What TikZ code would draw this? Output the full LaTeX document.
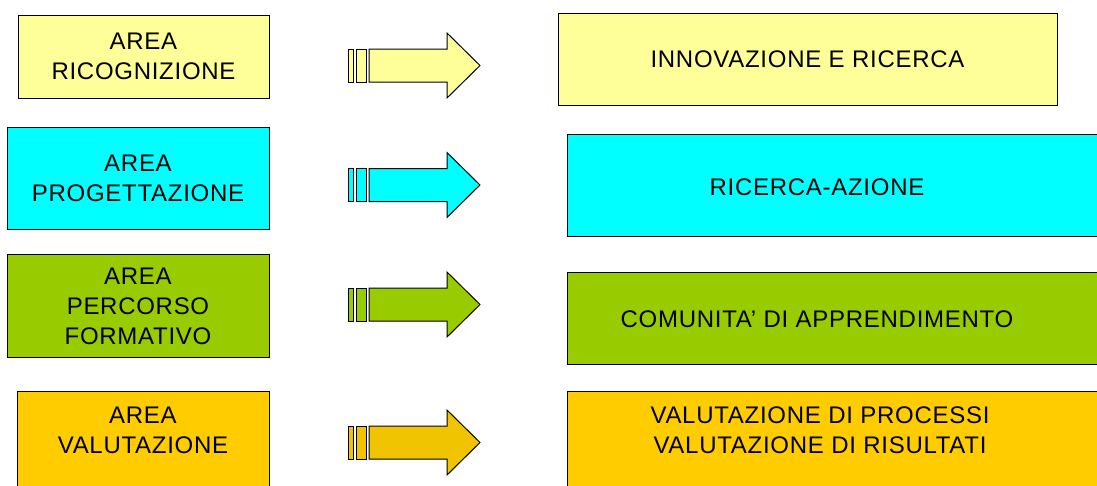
\documentclass[tikz,border=0pt]{standalone}
\usepackage{fontspec}
\setmainfont{Liberation Sans}[LetterSpace=3]
\definecolor{cyellow}{HTML}{FFFF99}
\definecolor{ccyan}{HTML}{00FFFF}
\definecolor{cgreen}{HTML}{99CC00}
\definecolor{corange}{HTML}{FFCC00}
\definecolor{carrow}{HTML}{F0C400}
\newcommand\myarrow[2]{%
  \filldraw[arr,fill=#2] (348,#1-16.5) rectangle (353,#1+16.5);
  \filldraw[arr,fill=#2] (356,#1-16.5) rectangle (366,#1+16.5);
  \filldraw[arr,fill=#2] (369,#1-16.5) -- (447,#1-16.5) -- (447,#1-32.5) -- (480,#1) -- (447,#1+32.5) -- (447,#1+16.5) -- (369,#1+16.5) -- cycle;}
\begin{document}
\begin{tikzpicture}[x=1pt,y=-1pt,
  box/.style={draw=black,line width=1pt,align=center,font=\fontsize{24}{30}\selectfont,inner sep=0pt},
  txt/.style={align=center,font=\fontsize{24}{30}\selectfont,inner sep=0pt},
  arr/.style={draw=black,line width=1pt,line join=miter}]
\useasboundingbox (0,0) rectangle (1097,485);
\clip (0,0) rectangle (1097,485);
% left boxes
\node[box,fill=cyellow,minimum width=251,minimum height=83] (l1) at (143.5,56.5) {AREA\\RICOGNIZIONE};
\node[box,fill=ccyan,minimum width=262,minimum height=102] (l2) at (138,178) {AREA\\PROGETTAZIONE};
\node[box,fill=cgreen,minimum width=262,minimum height=103] (l3) at (138,306) {AREA\\PERCORSO\\FORMATIVO};
\node[box,fill=corange,minimum width=252,minimum height=120,anchor=north west] (l4) at (17,391) {};
\node[txt] (t4) at (143,430) {AREA\\VALUTAZIONE};
% right boxes
\node[box,fill=cyellow,minimum width=499,minimum height=92] (r1) at (807.5,59) {INNOVAZIONE E RICERCA};
\node[box,fill=ccyan,minimum width=560,minimum height=102,anchor=north west] (r2) at (567,134) {};
\node[txt] (s2) at (817,187) {RICERCA-AZIONE};
\node[box,fill=cgreen,minimum width=560,minimum height=92,anchor=north west] (r3) at (567,272) {};
\node[txt] (s3) at (817,319) {COMUNITA' DI APPRENDIMENTO};
\node[box,fill=corange,minimum width=560,minimum height=120,anchor=north west] (r4) at (567,391) {};
\node[txt] (s4) at (820,430) {VALUTAZIONE DI PROCESSI\\VALUTAZIONE DI RISULTATI};
% arrows
\myarrow{65.5}{cyellow}
\myarrow{185}{ccyan}
\myarrow{304.5}{cgreen}
\myarrow{442.5}{carrow}
\end{tikzpicture}
\end{document}
